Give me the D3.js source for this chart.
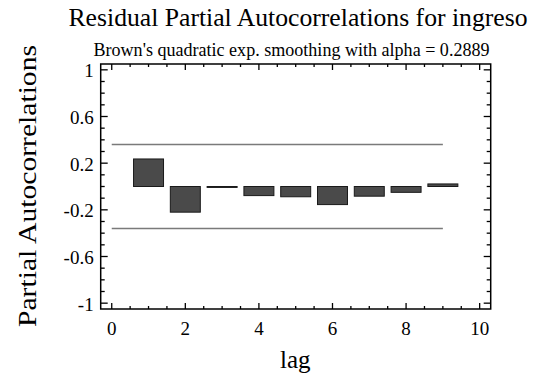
<!DOCTYPE html>
<html>
<head>
<meta charset="utf-8">
<script src="https://cdn.jsdelivr.net/npm/d3@7"></script>
<style>
  body { margin: 0; background: #fff; }
  svg text { font-family: "Liberation Serif", "Times New Roman", serif; fill: #000; }
</style>
</head>
<body>
<svg id="chart" width="536" height="377"></svg>
<script>
// data
const lags = [1, 2, 3, 4, 5, 6, 7, 8, 9];
const pacf = [0.236, -0.22, -0.008, -0.078, -0.088, -0.155, -0.083, -0.05, 0.022];
const limit = 0.36;
const xTicks = [0, 2, 4, 6, 8, 10];
const yTicks = [1, 0.6, 0.2, -0.2, -0.6, -1];

const svg = d3.select("#chart");

const plotL = 100.7, plotR = 490.7, plotT = 64, plotB = 309;

let x = d3.scaleLinear()
    .domain([-0.3, 10.3])
    .range([plotL, plotR]);

let y = d3.scaleLinear()
    .domain([-1.05, 1.05])
    .range([plotB, plotT]);

// titles
svg.append("text")
    .attr("x", 298).attr("y", 26)
    .attr("text-anchor", "middle")
    .attr("textLength", 459).attr("lengthAdjust", "spacingAndGlyphs")
    .style("font-size", "26px")
    .text("Residual Partial Autocorrelations for ingreso");

svg.append("text")
    .attr("x", 291.5).attr("y", 56)
    .attr("text-anchor", "middle")
    .attr("textLength", 396).attr("lengthAdjust", "spacingAndGlyphs")
    .style("font-size", "18px")
    .text("Brown's quadratic exp. smoothing with alpha = 0.2889");

// axis labels
svg.append("text")
    .attr("transform", "translate(36," + 186 + ") rotate(-90)")
    .attr("text-anchor", "middle")
    .attr("textLength", 282).attr("lengthAdjust", "spacingAndGlyphs")
    .style("font-size", "25px")
    .text("Partial Autocorrelations");

svg.append("text")
    .attr("x", x(4.99)).attr("y", 368)
    .attr("text-anchor", "middle")
    .style("font-size", "25px")
    .text("lag");

// limit lines
svg.selectAll("line.limit")
    .data([limit, -limit])
    .enter().append("line")
    .attr("class", "limit")
    .attr("x1", x(0)).attr("x2", x(lags[lags.length - 1]))
    .attr("y1", function (d) { return y(d); })
    .attr("y2", function (d) { return y(d); })
    .style("stroke", "#7a7a7a")
    .style("stroke-width", "1.3px");

// bars
const bw = 0.815;
svg.selectAll("rect.bar")
    .data(pacf)
    .enter().append("rect")
    .attr("class", "bar")
    .attr("x", function (d, i) { return x(lags[i] - bw / 2); })
    .attr("width", x(bw) - x(0))
    .attr("y", function (d) { return y(Math.max(0, d)); })
    .attr("height", function (d) { return Math.abs(y(d) - y(0)); })
    .style("fill", "#4a4a4a")
    .style("stroke", "#1a1a1a")
    .style("stroke-width", "1px");

// frame
svg.append("rect")
    .attr("x", plotL).attr("y", plotT)
    .attr("width", plotR - plotL).attr("height", plotB - plotT)
    .style("fill", "none")
    .style("stroke", "#000")
    .style("stroke-width", "1.5px");

// ticks (inward on all four sides)
const yMinor = d3.range(-10, 11).map(function (k) { return k / 10; });
const xMinor = d3.range(0, 21).map(function (k) { return k / 2; });

function isMajorY(v) { return yTicks.some(function (t) { return Math.abs(t - v) < 1e-6; }); }
function isMajorX(v) { return xTicks.indexOf(v) >= 0; }

let g = svg.append("g").style("stroke", "#000").style("stroke-width", "1.3px");

g.selectAll("line.yl").data(yMinor).enter().append("line")
    .attr("x1", plotL).attr("x2", function (d) { return plotL + (isMajorY(d) ? 7 : 4); })
    .attr("y1", function (d) { return y(d); }).attr("y2", function (d) { return y(d); });
g.selectAll("line.yr").data(yMinor).enter().append("line")
    .attr("x1", plotR).attr("x2", function (d) { return plotR - (isMajorY(d) ? 7 : 4); })
    .attr("y1", function (d) { return y(d); }).attr("y2", function (d) { return y(d); });
g.selectAll("line.xb").data(xMinor).enter().append("line")
    .attr("y1", plotB).attr("y2", function (d) { return plotB - (isMajorX(d) ? 6 : 3); })
    .attr("x1", function (d) { return x(d); }).attr("x2", function (d) { return x(d); });
g.selectAll("line.xt").data(xMinor).enter().append("line")
    .attr("y1", plotT).attr("y2", function (d) { return plotT + (isMajorX(d) ? 6 : 3); })
    .attr("x1", function (d) { return x(d); }).attr("x2", function (d) { return x(d); });

// tick labels
svg.selectAll("text.yt").data(yTicks).enter().append("text")
    .attr("class", "yt")
    .attr("x", plotL - 7)
    .attr("y", function (d) { return y(d) + 7.5; })
    .attr("text-anchor", "end")
    .style("font-family", "'Liberation Serif', serif")
    .style("font-size", "19px")
    .text(function (d) { return String(d); });

svg.selectAll("text.xt").data(xTicks).enter().append("text")
    .attr("class", "xt")
    .attr("x", function (d) { return x(d); })
    .attr("y", 335)
    .attr("text-anchor", "middle")
    .style("font-family", "'Liberation Serif', serif")
    .style("font-size", "19px")
    .text(function (d) { return String(d); });
</script>
</body>
</html>
